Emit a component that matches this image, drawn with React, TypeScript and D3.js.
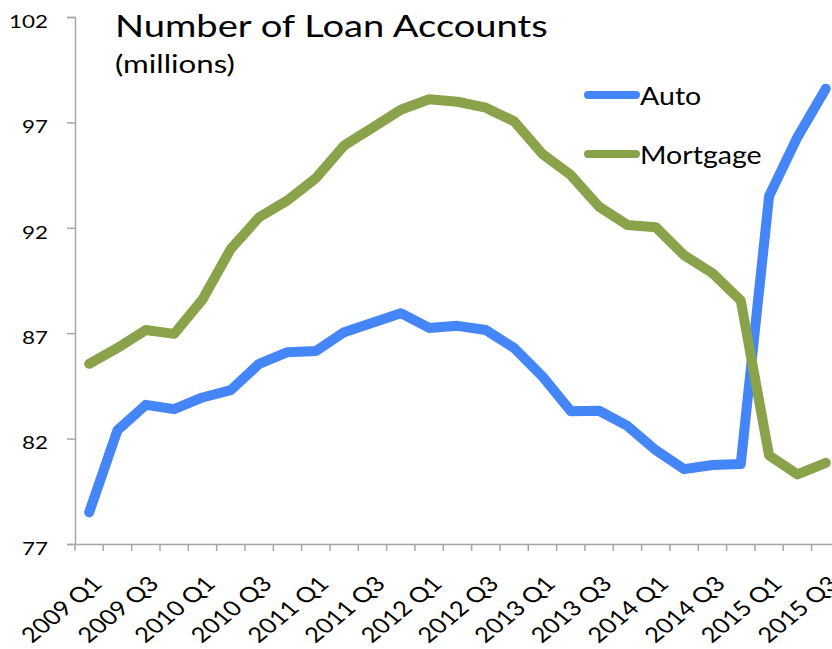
import * as d3 from 'd3';
import React, { useEffect, useRef } from 'react';

const quarters: string[] = [];
const years = [2009, 2010, 2011, 2012, 2013, 2014, 2015];
years.forEach((y) => {
  ['Q1', 'Q2', 'Q3', 'Q4'].forEach((q) => quarters.push(`${y} ${q}`));
});
quarters.splice(27);

const auto = [
  78.5, 82.4, 83.6, 83.4, 83.95, 84.3, 85.55, 86.1, 86.15, 87.05, 87.5, 87.95, 87.25, 87.35,
  87.15, 86.3, 84.95, 83.3, 83.32, 82.6, 81.45, 80.55, 80.75, 80.8, 93.5, 96.3, 98.6,
];

const mortgage = [
  85.55, 86.3, 87.15, 86.97, 88.6, 91.0, 92.5, 93.3, 94.35, 95.9, 96.75, 97.6, 98.1, 97.98,
  97.7, 97.05, 95.5, 94.5, 93.0, 92.13, 92.03, 90.7, 89.85, 88.55, 81.2, 80.3, 80.85,
];

const yTicks = [77, 82, 87, 92, 97, 102];

const series = [
  { name: 'Auto', values: auto, color: '#4485f7' },
  { name: 'Mortgage', values: mortgage, color: '#8aa34b' },
];

const width = 832;
const height = 649;
const font = 'Lato, "Open Sans", sans-serif';

const LoanChart: React.FC = () => {
  const ref = useRef<SVGSVGElement>(null);

  useEffect(() => {
    if (!ref.current) {
      return;
    }
    const svg = d3.select(ref.current);
    svg.selectAll('*').remove();

    const x = d3.scaleBand<string>().domain(quarters).range([75, 75 + 27 * 28.33]);
    const y = d3.scaleLinear().domain([77, 102]).range([544, 17]);
    const axisColor = '#a6a6a6';

    // y axis
    const yAxis = svg
      .append('g')
      .attr('transform', 'translate(75,0)')
      .call(d3.axisLeft(y).tickValues(yTicks).tickSize(8).tickFormat(d3.format('d')));
    yAxis.select('.domain').attr('stroke', axisColor).attr('stroke-width', 1.5);
    yAxis.selectAll('.tick line').attr('stroke', axisColor).attr('stroke-width', 1.5);
    yAxis
      .selectAll('.tick text')
      .attr('x', 0)
      .attr('dy', '0.59em')
      .attr('transform', 'translate(-27,0) scale(1.28,1)')
      .attr('fill', '#000')
      .style('font-family', font)
      .style('font-size', '17.5px');

    // x axis
    const xAxis = svg
      .append('g')
      .attr('transform', 'translate(0,544)')
      .call(d3.axisBottom(x).tickSize(0).tickFormat(() => ''));
    xAxis.select('.domain').attr('stroke', axisColor).attr('stroke-width', 1.5);
    xAxis.selectAll('.tick').remove();

    const boundaries = d3.range(quarters.length + 1).map((i) => 75 + i * x.step());
    svg
      .append('g')
      .selectAll('line')
      .data(boundaries)
      .join('line')
      .attr('x1', (d) => d)
      .attr('x2', (d) => d)
      .attr('y1', 544)
      .attr('y2', 551)
      .attr('stroke', axisColor)
      .attr('stroke-width', 1.5);

    svg
      .append('g')
      .selectAll('text')
      .data(quarters.filter((_, i) => i % 2 === 0))
      .join('text')
      .attr(
        'transform',
        (d) => `translate(${(x(d) ?? 0) + x.bandwidth() / 2 + 8},580) scale(1.22,1) rotate(-45)`
      )
      .attr('text-anchor', 'end')
      .attr('dy', '0.35em')
      .style('font-family', font)
      .style('font-size', '21px')
      .attr('fill', '#000')
      .text((d) => d);

    // lines
    const line = d3
      .line<number>()
      .x((_, i) => (x(quarters[i]) ?? 0) + x.bandwidth() / 2)
      .y((d) => y(d));

    svg
      .append('g')
      .selectAll('path')
      .data(series)
      .join('path')
      .attr('fill', 'none')
      .attr('stroke', (d) => d.color)
      .attr('stroke-width', 10)
      .attr('stroke-linejoin', 'round')
      .attr('stroke-linecap', 'round')
      .attr('d', (d) => line(d.values));

    // title
    svg
      .append('text')
      .attr('transform', 'translate(115,37) scale(1.23,1)')
      .style('font-family', font)
      .style('font-size', '31px')
      .text('Number of Loan Accounts');
    svg
      .append('text')
      .attr('transform', 'translate(115,73) scale(1.25,1)')
      .style('font-family', font)
      .style('font-size', '25px')
      .text('(millions)');

    // legend
    const legend = svg
      .append('g')
      .selectAll('g')
      .data(series)
      .join('g')
      .attr('transform', (_, i) => `translate(588,${95 + i * 59})`);
    legend
      .append('line')
      .attr('x1', 0)
      .attr('x2', 48)
      .attr('stroke', (d) => d.color)
      .attr('stroke-width', 8)
      .attr('stroke-linecap', 'round');
    legend
      .append('text')
      .attr('transform', 'translate(52,10) scale(1.12,1)')
      .style('font-family', font)
      .style('font-size', '25.5px')
      .text((d) => d.name);
  }, []);

  return <svg ref={ref} width={width} height={height} viewBox={`0 0 ${width} ${height}`}></svg>;
};

export default function App() {
  return (
    <div style={{ position: 'absolute', left: 0, top: 0, background: '#fff' }}>
      <LoanChart />
    </div>
  );
}
